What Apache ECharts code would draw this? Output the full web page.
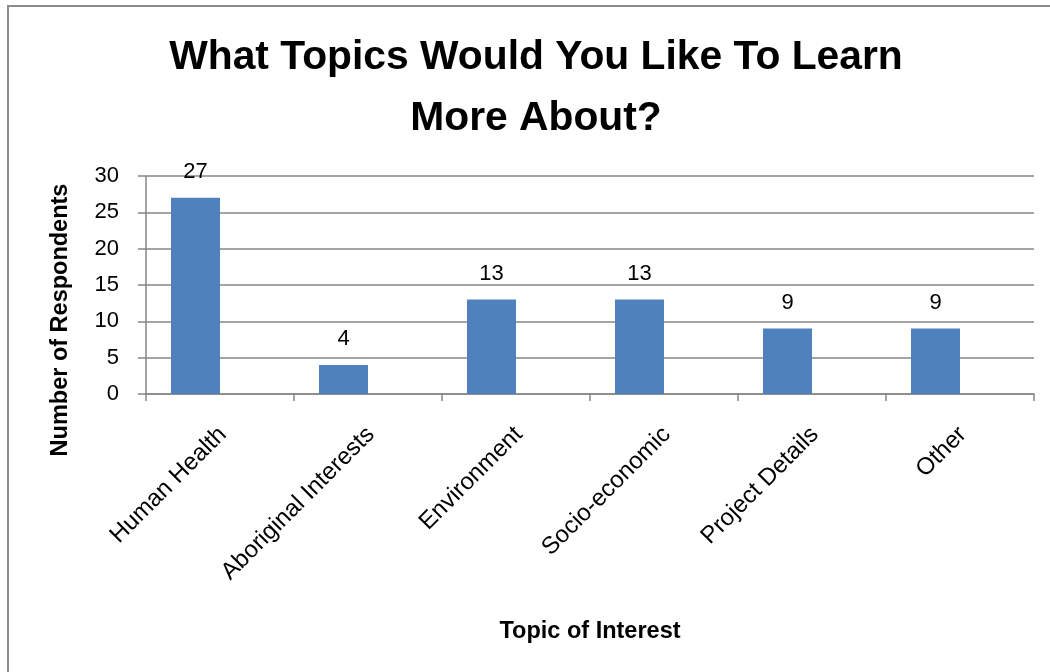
<!DOCTYPE html>
<html>
<head>
<meta charset="utf-8">
<script src="https://cdn.jsdelivr.net/npm/echarts@6/dist/echarts.min.js"></script>
<style>
  html, body { margin: 0; padding: 0; background: #fff; }
  #frame { position: absolute; left: 7px; top: 5px; width: 2000px; height: 2000px;
           border-left: 2px solid #8c8c8c; border-top: 2px solid #8c8c8c; box-sizing: border-box; }
  #chart { position: absolute; left: 0; top: 0; width: 1050px; height: 672px; }
</style>
</head>
<body>
<div id="frame"></div>
<div id="chart"></div>
<script>
const titleText = "What Topics Would You Like To Learn\nMore About?";
const categories = ["Human Health", "Aboriginal Interests", "Environment", "Socio-economic", "Project Details", "Other"];
const respondents = [27, 4, 13, 13, 9, 9];
const emptySeries = [null, null, null, null, null, null];
const yTicks = { min: 0, max: 30, interval: 5 };
const xAxisTitle = "Topic of Interest";
const yAxisTitle = "Number of Respondents";

const FONT = "'Liberation Sans', Arial, sans-serif";
const chart = echarts.init(document.getElementById('chart'), null, { renderer: 'canvas' });
chart.setOption({
  backgroundColor: 'transparent',
  animation: false,
  title: {
    text: titleText,
    left: 536,
    top: 27,
    padding: 0,
    textAlign: 'center',
    textStyle: { fontFamily: FONT, fontSize: 40.8, fontWeight: 'bold', color: '#000', lineHeight: 61 }
  },
  grid: { left: 146, right: 16, top: 176, bottom: 278, containLabel: false },
  xAxis: {
    type: 'category',
    data: categories,
    name: xAxisTitle,
    nameLocation: 'middle',
    nameGap: 226,
    nameTextStyle: { fontFamily: FONT, fontSize: 23.5, fontWeight: 'bold', color: '#000' },
    axisLine: { show: true, lineStyle: { color: '#868686', width: 1.5 } },
    axisTick: { show: true, interval: 0, length: 7, lineStyle: { color: '#868686', width: 1.5 } },
    axisLabel: {
      interval: 0, rotate: 45, margin: 34, hideOverlap: false,
      verticalAlign: 'top', lineHeight: 8,
      fontFamily: FONT, fontSize: 24, color: '#000'
    },
    splitLine: { show: false }
  },
  yAxis: {
    type: 'value',
    min: yTicks.min, max: yTicks.max, interval: yTicks.interval,
    name: yAxisTitle,
    nameLocation: 'middle',
    nameGap: 73,
    nameTextStyle: { fontFamily: FONT, fontSize: 23.5, fontWeight: 'bold', color: '#000', padding: [0, 70, 0, 0] },
    axisLine: { show: true, lineStyle: { color: '#868686', width: 1.5 } },
    axisTick: { show: true, length: 8, lineStyle: { color: '#868686', width: 1.5 } },
    axisLabel: { margin: 27, fontFamily: FONT, fontSize: 22, color: '#000' },
    splitLine: { show: true, lineStyle: { color: '#868686', width: 1.5 } }
  },
  series: [{
    type: 'bar',
    data: respondents,
    barWidth: 49,
    barGap: 0,
    itemStyle: { color: '#4F81BD' },
    label: {
      show: true, position: 'top', distance: 15,
      fontFamily: FONT, fontSize: 22, color: '#000'
    }
  }, {
    type: 'bar',
    data: emptySeries,
    barWidth: 49,
    barGap: 0,
    itemStyle: { color: '#C0504D' }
  }]
});
</script>
</body>
</html>
